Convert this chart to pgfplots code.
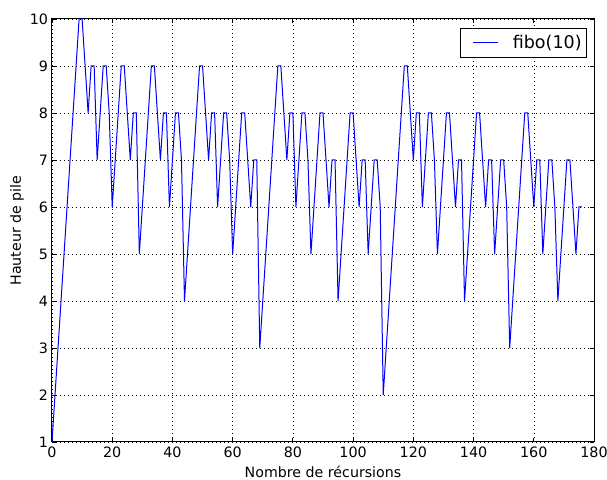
\documentclass[border=0pt]{standalone}
\usepackage{fontspec}
\setmainfont{DejaVu Sans}
\usepackage{pgfplots}
\pgfplotsset{compat=1.18}
\usetikzlibrary{calc}

\begin{document}
\begin{tikzpicture}
\begin{axis}[
  name=ax,
  scale only axis,
  width=542pt, height=423pt,
  xmin=0, xmax=180, ymin=1, ymax=10,
  xtick={0,20,...,180}, ytick={1,2,...,10},
  /pgf/number format/assume math mode=true,
  tick label style={font=\fontsize{14.3}{16}\selectfont},
  label style={font=\fontsize{14.2}{16}\selectfont},
  xlabel={Nombre de récursions},
  ylabel={Hauteur de pile},
  xlabel style={yshift=-2pt},
  ylabel style={yshift=-1pt},
  xticklabel style={yshift=-1pt},
  yticklabel style={xshift=-0.5pt},
  tick align=inside,
  major tick length=4pt,
  tick style={black, line width=0.8pt},
  axis line style={black, line width=1pt},
  grid=major,
  major grid style={black, line width=0.5pt, dash pattern=on 1pt off 3pt},
  legend style={at={(1,1)}, anchor=north east, xshift=-7pt, yshift=-9pt,
    draw=black, line width=0.8pt, font=\fontsize{17.5}{19}\selectfont,
    inner xsep=3pt, inner ysep=5pt},
  legend cell align=left,
  legend image code/.code={\path (0pt,0pt); \draw[#1] (9pt,0pt) -- (34pt,0pt);},
]
\addplot[blue, line width=1pt, mark=none] coordinates {
(0,1) (1,2) (2,3)
(3,4) (4,5) (5,6) (6,7) (7,8) (8,9) (9,10) (10,10) (11,9) (12,8) (13,9) (14,9) (15,7) (16,8) (17,9) (18,9) (19,8) (20,6) (21,7) (22,8) (23,9) (24,9) (25,8) (26,7) (27,8) (28,8) (29,5) (30,6) (31,7) (32,8) (33,9) (34,9) (35,8) (36,7) (37,8) (38,8) (39,6) (40,7) (41,8) (42,8) (43,7)
(44,4) (45,5) (46,6) (47,7) (48,8) (49,9) (50,9) (51,8) (52,7) (53,8) (54,8) (55,6) (56,7) (57,8) (58,8) (59,7) (60,5) (61,6) (62,7) (63,8) (64,8) (65,7) (66,6) (67,7) (68,7)
(69,3) (70,4) (71,5) (72,6) (73,7) (74,8) (75,9) (76,9) (77,8) (78,7) (79,8) (80,8) (81,6) (82,7) (83,8) (84,8) (85,7) (86,5) (87,6) (88,7) (89,8) (90,8) (91,7) (92,6) (93,7) (94,7) (95,4) (96,5) (97,6) (98,7) (99,8) (100,8) (101,7) (102,6) (103,7) (104,7) (105,5) (106,6) (107,7) (108,7) (109,6)
(110,2)
(111,3) (112,4) (113,5) (114,6) (115,7) (116,8) (117,9) (118,9) (119,8) (120,7) (121,8) (122,8) (123,6) (124,7) (125,8) (126,8) (127,7) (128,5) (129,6) (130,7) (131,8) (132,8) (133,7) (134,6) (135,7) (136,7) (137,4) (138,5) (139,6) (140,7) (141,8) (142,8) (143,7) (144,6) (145,7) (146,7) (147,5) (148,6) (149,7) (150,7) (151,6)
(152,3) (153,4) (154,5) (155,6) (156,7) (157,8) (158,8) (159,7) (160,6) (161,7) (162,7) (163,5) (164,6) (165,7) (166,7) (167,6) (168,4) (169,5) (170,6) (171,7) (172,7) (173,6) (174,5) (175,6) (176,6)
};
\addlegendentry{\hspace{12pt}fibo(10)}
\end{axis}
\pgfresetboundingbox
\path[use as bounding box] ($(ax.south west)+(-52pt,-38pt)$) rectangle ($(ax.north east)+(13pt,19pt)$);
\end{tikzpicture}
\end{document}
